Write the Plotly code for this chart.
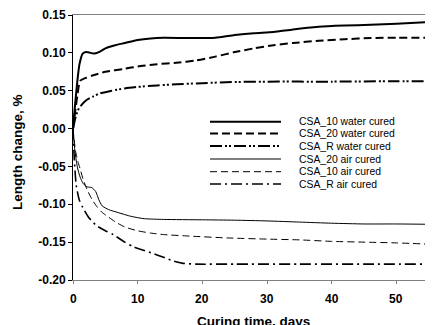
import plotly.graph_objects as go

# ---- data ----
x_10w = [0, 0.3, 0.7, 1.0, 1.5, 2.0, 2.5, 3.2, 4.0, 5.0, 6.5, 8, 10, 12, 14, 18, 22, 25, 28, 31, 34, 38, 42, 46, 50, 56]
y_10w = [0, 0.03, 0.065, 0.085, 0.099, 0.101, 0.1005, 0.099, 0.101, 0.106, 0.110, 0.113, 0.117, 0.119, 0.1198, 0.1195, 0.120, 0.1235, 0.126, 0.1275, 0.131, 0.1345, 0.136, 0.137, 0.1385, 0.141]

x_20w = [0, 0.3, 0.7, 1.1, 2, 3, 5, 8, 10, 13, 16, 19, 22, 25, 28, 31, 34, 38, 42, 46, 50, 56]
y_20w = [0, 0.02, 0.045, 0.063, 0.067, 0.070, 0.075, 0.079, 0.082, 0.085, 0.087, 0.090, 0.095, 0.101, 0.106, 0.110, 0.113, 0.116, 0.118, 0.1195, 0.120, 0.120]

x_Rw = [0, 0.5, 1, 2, 3, 4, 6, 8, 10, 13, 16, 20, 25, 30, 40, 50, 56]
y_Rw = [0, 0.018, 0.028, 0.037, 0.042, 0.046, 0.050, 0.053, 0.055, 0.057, 0.0585, 0.060, 0.0615, 0.062, 0.062, 0.0625, 0.0625]

x_20a = [0, 0.3, 0.7, 1.1, 1.6, 2.2, 2.9, 3.5, 4.0, 4.5, 5.5, 7, 9, 11, 14, 20, 25, 30, 35, 40, 45, 50, 56]
y_20a = [0, -0.03, -0.052, -0.064, -0.073, -0.077, -0.078, -0.083, -0.094, -0.102, -0.107, -0.111, -0.116, -0.119, -0.120, -0.1205, -0.121, -0.122, -0.1235, -0.125, -0.126, -0.126, -0.1265]

x_10a = [0, 0.4, 0.8, 1.1, 1.6, 2.2, 2.9, 3.6, 4.4, 5.5, 6.5, 8, 10, 12, 14, 18, 24, 30, 35, 40, 45, 50, 56]
y_10a = [0, -0.03, -0.045, -0.053, -0.068, -0.081, -0.093, -0.102, -0.110, -0.117, -0.123, -0.130, -0.135, -0.138, -0.140, -0.142, -0.1445, -0.146, -0.147, -0.149, -0.150, -0.151, -0.153]

x_Ra = [0, 0.2, 0.5, 1.0, 1.5, 2.4, 3.6, 5, 6.2, 8, 9.3, 11, 12.4, 14, 15.5, 17, 19, 25, 35, 45, 56]
y_Ra = [0, -0.04, -0.075, -0.095, -0.104, -0.117, -0.128, -0.135, -0.140, -0.150, -0.156, -0.161, -0.165, -0.170, -0.175, -0.178, -0.179, -0.179, -0.179, -0.179, -0.179]

names = ["CSA_10 water cured", "CSA_20 water cured", "CSA_R water cured",
         "CSA_20 air cured", "CSA_10 air cured", "CSA_R air cured"]

x_ticks = [0, 10, 20, 30, 40, 50]
y_ticks = [-0.20, -0.15, -0.10, -0.05, 0.00, 0.05, 0.10, 0.15]

# ---- styles ----
styles = [
    dict(width=2.0, dash="solid"),
    dict(width=2.0, dash="8px,4px"),
    dict(width=2.0, dash="12px,3px,2px,2px,2px,3px"),
    dict(width=1.0, dash="solid"),
    dict(width=1.0, dash="7px,4px"),
    dict(width=1.6, dash="11px,4px,2px,4px"),
]
series = [(x_10w, y_10w), (x_20w, y_20w), (x_Rw, y_Rw),
          (x_20a, y_20a), (x_10a, y_10a), (x_Ra, y_Ra)]

FONT = "Liberation Sans, Arial, sans-serif"

fig = go.Figure()
for (xs, ys), nm, st in zip(series, names, styles):
    fig.add_trace(go.Scatter(x=xs, y=ys, mode="lines", name=nm, showlegend=False,
                             line=dict(color="black", width=st["width"], dash=st["dash"],
                                       shape="spline", smoothing=0.6)))

# page has an 8px body margin; figure coordinates = page - 8
OFF = 8
PAGE_L, PAGE_T, PAGE_B = 73, 15, 280   # plot area in page pixels
PW = 360
PH = PAGE_B - PAGE_T
W, H = 433, 325
ML = PAGE_L - OFF
MT = PAGE_T - OFF
MR = W - ML - PW
MB = H - MT - PH

def px_x(p):
    return (p - PAGE_L) / PW
def px_y(p):
    return (PAGE_B - p) / PH

row_y = [121.7, 133.5, 146, 159, 171.7, 184]
shapes = []
annotations = []
for nm, st, ry in zip(names, styles, row_y):
    shapes.append(dict(type="line", xref="paper", yref="paper",
                       x0=px_x(210), x1=px_x(281), y0=px_y(ry), y1=px_y(ry),
                       line=dict(color="black", width=st["width"], dash=st["dash"])))
    annotations.append(dict(xref="paper", yref="paper", x=px_x(297), y=px_y(ry),
                            text=nm, showarrow=False, xanchor="left", yanchor="middle",
                            font=dict(family=FONT, size=10.4, color="black")))

# x tick labels placed at the axis' tick values
for v in x_ticks:
    annotations.append(dict(xref="x", yref="paper", x=v, y=px_y(298.5),
                            text=str(v), showarrow=False,
                            xanchor="center", yanchor="middle",
                            font=dict(family=FONT, size=12, color="black", weight="bold")))

annotations.append(dict(xref="paper", yref="paper", x=px_x(253), y=px_y(321.5),
                        text="Curing time, days", showarrow=False,
                        xanchor="center", yanchor="middle",
                        font=dict(family=FONT, size=13.5, color="black", weight="bold")))
annotations.append(dict(xref="paper", yref="paper", x=px_x(17), y=px_y(152),
                        text="Length change, %", showarrow=False, textangle=-90,
                        xanchor="center", yanchor="middle",
                        font=dict(family=FONT, size=13.5, color="black", weight="bold")))

fig.update_layout(
    width=W, height=H,
    margin=dict(l=ML, r=MR, t=MT, b=MB, autoexpand=False),
    paper_bgcolor="white", plot_bgcolor="white",
    shapes=shapes, annotations=annotations,
    xaxis=dict(range=[0, 55.65], tickvals=x_ticks, showticklabels=False,
               automargin=False,
               showgrid=False, zeroline=False, showline=True, linecolor="#808080",
               linewidth=1, mirror=True, ticks="outside", ticklen=3, tickcolor="#808080"),
    yaxis=dict(range=[-0.20, 0.15], tickvals=y_ticks,
               ticktext=["%.2f" % v for v in y_ticks], automargin=False,
               showgrid=False, zeroline=False, showline=True, linecolor="black",
               linewidth=1, ticks="outside", ticklen=4, tickcolor="black",
               tickfont=dict(family=FONT, size=12, color="black", weight="bold")),
)

fig.write_html("out.html")
